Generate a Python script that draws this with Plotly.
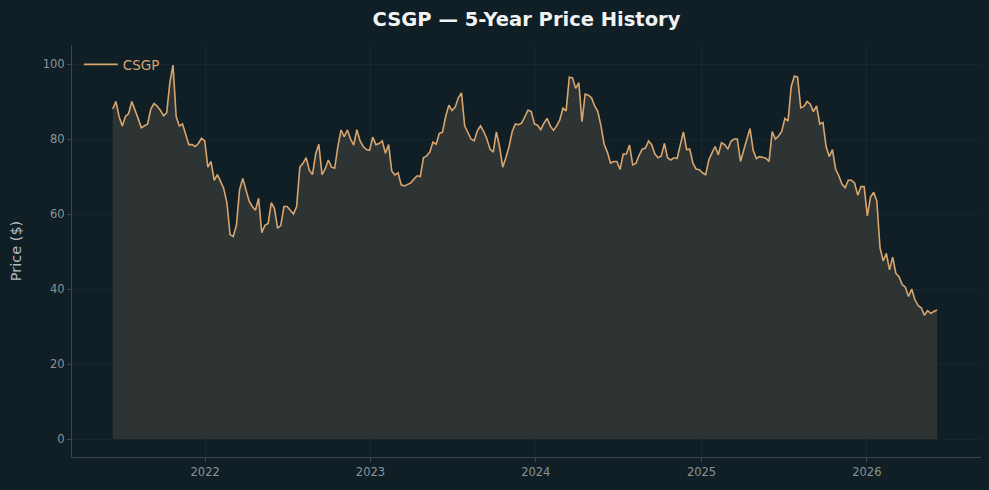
import pandas as pd
import plotly.graph_objects as go

ticker = "CSGP"
start_date = "2021-06-11"

prices = [
    # 2021-06 .. 2022-03
    88.0, 90.0, 86.0, 83.5, 86.0, 86.8, 90.0, 88.0, 85.5, 83.0,
    83.5, 84.0, 88.0, 89.5, 88.8, 87.7, 86.2, 87.0, 95.0, 99.7,
    86.0, 83.5, 84.0, 81.0, 78.5, 78.5, 78.0, 78.8, 80.2, 79.5,
    72.5, 74.0, 69.0, 70.5, 68.5, 66.8, 63.0, 54.5, 54.0, 57.0,
    66.5, 69.5,
    # 2022-04 .. 2023-01
    66.5, 63.5, 62.0, 61.0, 64.2, 55.0, 57.0, 57.5, 63.0, 61.5,
    56.2, 57.0, 62.0, 62.0, 61.0, 60.0, 62.0, 72.5, 73.5, 75.0,
    71.7, 70.5, 76.0, 78.6, 70.5, 72.0, 74.4, 72.5, 72.2, 78.0,
    82.4, 80.6, 82.4, 80.0, 78.4, 82.5, 79.5, 78.0, 77.2, 77.0,
    80.5, 78.5,
    # 2023-01 .. 2023-12
    78.8, 79.5, 76.2, 78.5, 71.5, 70.4, 71.0, 67.7, 67.5, 68.0,
    68.3, 69.3, 70.2, 70.0, 75.0, 75.5, 76.5, 79.2, 78.6, 81.5,
    81.8, 86.0, 89.0, 87.6, 88.5, 91.0, 92.3, 83.5, 81.9, 80.0,
    79.5, 82.2, 83.5, 82.0, 80.0, 77.3, 76.5, 81.9, 78.0, 72.5,
    75.0, 78.0, 82.0,
    # 2024-01 .. 2024-12
    84.0, 83.8, 84.3, 86.0, 87.7, 87.3, 84.0, 83.7, 82.5, 84.2,
    85.5, 83.5, 82.3, 83.5, 85.1, 88.2, 87.5, 96.5, 96.3, 93.5,
    95.0, 84.6, 92.0, 91.7, 91.0, 88.8, 87.3, 83.5, 78.6, 76.5,
    73.6, 74.0, 74.0, 71.9, 76.0, 76.0, 78.4, 73.1, 73.5, 75.6,
    77.3, 77.6, 79.5,
    # 2024-12 .. 2025-11
    78.5, 76.0, 75.0, 75.5, 78.8, 75.0, 74.4, 75.0, 74.8, 78.0,
    81.9, 77.2, 77.3, 73.5, 72.0, 71.8, 71.0, 70.5, 74.4, 76.3,
    78.0, 75.8, 79.0, 78.5, 77.3, 79.4, 80.0, 80.0, 74.0, 77.0,
    79.8, 82.8, 77.0, 74.8, 75.3, 75.0, 74.9, 74.0, 82.0, 80.0,
    80.8, 82.0,
    # 2025-08 .. 2026-06
    85.5, 84.8, 94.0, 96.8, 96.5, 88.3, 88.7, 90.0, 89.3, 87.3,
    88.8, 84.0, 84.4, 78.0, 75.3, 77.2, 72.0, 70.2, 68.0, 67.0,
    69.0, 69.0, 68.2, 65.0, 67.3, 67.3, 59.5, 64.5, 65.8, 63.5,
    51.0, 47.5, 49.5, 45.1, 48.5, 44.2, 43.3, 41.2, 40.5, 38.0,
    40.0, 37.2, 35.6, 35.0, 33.0, 34.2, 33.5, 34.0, 34.4,
]

dates = pd.date_range(start=start_date, periods=len(prices), freq="7D")

bg = "#0f1f25"
line_color = "#d9a56e"
fill_color = "rgb(46,51,51)"
grid_color = "rgba(255,255,255,0.035)"
spine_color = "#3b464b"
tick_color = "#8b9397"

fig = go.Figure()
# shaded area under the price line
fig.add_trace(go.Scatter(
    x=dates, y=prices, mode="lines", showlegend=False, hoverinfo="skip",
    line=dict(width=0, color=fill_color),
    fill="tozeroy", fillcolor=fill_color,
))
# price line
fig.add_trace(go.Scatter(
    x=dates, y=prices, mode="lines", name=ticker,
    line=dict(color=line_color, width=1.6),
))

fig.update_layout(
    width=989, height=490,
    paper_bgcolor=bg, plot_bgcolor=bg,
    margin=dict(l=72, r=8, t=45, b=33),
    font=dict(family="DejaVu Sans", color=tick_color),
    title=dict(
        text="<b>CSGP — 5-Year Price History</b>",
        font=dict(family="DejaVu Sans", size=19.5, color="#f2f2f2"),
        x=0.5, xref="paper", xanchor="center",
        y=1 - 19 / 490, yref="container", yanchor="middle",
    ),
    showlegend=True,
    legend=dict(
        x=0.0075, y=0.99, xanchor="left", yanchor="top",
        bgcolor="rgba(0,0,0,0)", itemwidth=34,
        font=dict(family="DejaVu Sans", size=13.5, color=line_color),
    ),
)

fig.update_xaxes(
    type="date",
    range=["2021-03-13", "2026-09-10"],
    tickvals=["2022-01-01", "2023-01-01", "2024-01-01", "2025-01-01", "2026-01-01"],
    ticktext=["2022", "2023", "2024", "2025", "2026"],
    ticks="outside", ticklen=4, tickcolor=spine_color,
    tickfont=dict(size=11.5, color=tick_color),
    showgrid=True, gridcolor=grid_color, gridwidth=1,
    showline=True, linecolor=spine_color, linewidth=1,
    zeroline=False,
)
fig.update_yaxes(
    range=[-4.8, 105.07],
    tickvals=[0, 20, 40, 60, 80, 100],
    ticks="outside", ticklen=4, tickcolor=spine_color,
    tickfont=dict(size=11.5, color=tick_color),
    showgrid=True, gridcolor=grid_color, gridwidth=1,
    showline=True, linecolor=spine_color, linewidth=1,
    zeroline=False,
    title=dict(text="Price ($)", font=dict(size=14.5, color="#b4babd"), standoff=17),
)

fig.write_html("out.html")
